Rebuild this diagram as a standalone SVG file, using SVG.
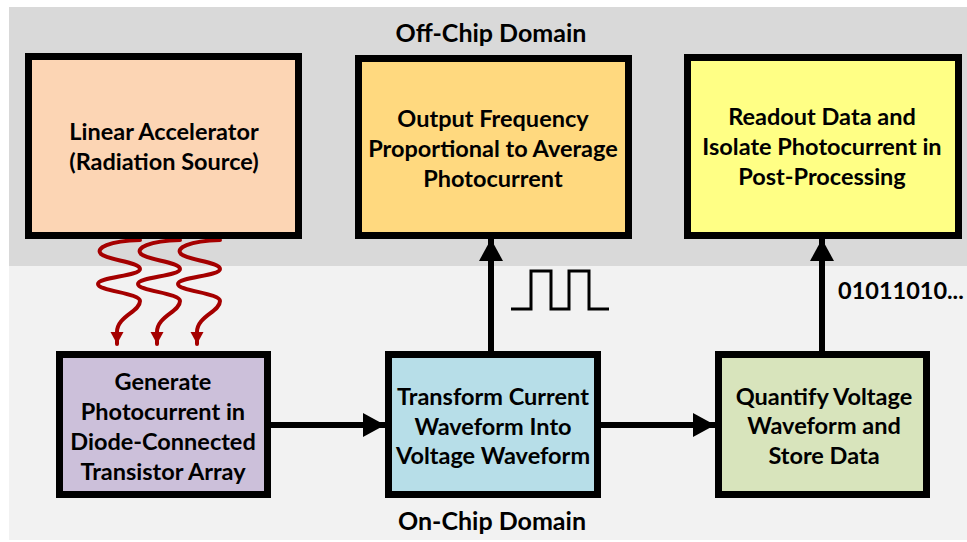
<svg xmlns="http://www.w3.org/2000/svg" width="967" height="542" viewBox="0 0 967 542">
  <style>
    .box { stroke: #000; stroke-width: 7; }
    .lbl { font-family: Lato, "Liberation Sans", sans-serif; font-weight: bold; font-size: 23.5px; fill: #000; text-anchor: middle; }
    .dom { font-size: 25px; }
    .flow { stroke: #000; stroke-width: 6; fill: none; }
    .ray { stroke: #a50000; stroke-width: 4; fill: none; stroke-linecap: round; }
  </style>
  <defs>
    <marker id="head" markerUnits="userSpaceOnUse" markerWidth="24" markerHeight="24" refX="22" refY="12" orient="auto">
      <path d="M0,0 L22,12 L0,24 Z" fill="#000"/>
    </marker>
    <marker id="rayhead" markerUnits="userSpaceOnUse" markerWidth="14" markerHeight="14" refX="12" refY="6.5" orient="auto">
      <path d="M0,0 L12,6.5 L0,13 Z" fill="#a50000"/>
    </marker>
    <path id="wave" class="ray" d="M23,0 C-8,1 -22,8 -16,14 C-10,20 23,22 23,29 C23,36 -19,37 -19,44 C-19,51 23,53 23,61 C23,72 0,76 0,92 L0,104" marker-end="url(#rayhead)"/>
  </defs>

  <!-- domain backgrounds -->
  <rect x="9" y="7" width="958" height="259" fill="#d9d9d9"/>
  <rect x="9" y="266" width="958" height="274" fill="#f2f2f2"/>
  <text class="lbl dom" x="491" y="42">Off-Chip Domain</text>
  <text class="lbl dom" x="492" y="530">On-Chip Domain</text>

  <!-- connectors -->
  <g id="connectors">
    <line class="flow" x1="271" y1="425" x2="385" y2="425" marker-end="url(#head)"/>
    <line class="flow" x1="601" y1="425" x2="715" y2="425" marker-end="url(#head)"/>
    <line class="flow" x1="491" y1="351" x2="491" y2="239" marker-end="url(#head)"/>
    <line class="flow" x1="822" y1="351" x2="822" y2="239" marker-end="url(#head)"/>
    <g id="radiation">
      <use href="#wave" x="117" y="240"/>
      <use href="#wave" x="157" y="240"/>
      <use href="#wave" x="197" y="240"/>
    </g>
    <polyline points="511,309 531,309 531,271 551,271 551,309 569,309 569,271 589,271 589,309 609,309" fill="none" stroke="#000" stroke-width="3"/>
    <text class="lbl" x="838" y="299" style="text-anchor:start">01011010...</text>
  </g>

  <g id="linac">
    <rect class="box" x="28.5" y="56.5" width="270" height="179" fill="#fcd5b4"/>
    <text class="lbl" x="164" y="140">Linear Accelerator</text>
    <text class="lbl" x="164" y="170">(Radiation Source)</text>
  </g>
  <g id="frequency">
    <rect class="box" x="358.5" y="58.5" width="270" height="177" fill="#ffd97f"/>
    <text class="lbl" x="493" y="127">Output Frequency</text>
    <text class="lbl" x="493" y="157">Proportional to Average</text>
    <text class="lbl" x="493" y="187">Photocurrent</text>
  </g>
  <g id="readout">
    <rect class="box" x="687.5" y="57.5" width="271" height="178" fill="#ffff85"/>
    <text class="lbl" x="822" y="125">Readout Data and</text>
    <text class="lbl" x="822" y="155">Isolate Photocurrent in</text>
    <text class="lbl" x="822" y="185">Post-Processing</text>
  </g>
  <g id="generate">
    <rect class="box" x="59.5" y="354.5" width="208" height="140" fill="#ccc0da"/>
    <text class="lbl" x="163" y="390">Generate</text>
    <text class="lbl" x="163" y="420">Photocurrent in</text>
    <text class="lbl" x="163" y="450">Diode-Connected</text>
    <text class="lbl" x="163" y="480">Transistor Array</text>
  </g>
  <g id="transform">
    <rect class="box" x="388.5" y="354.5" width="209" height="140" fill="#b7dee8"/>
    <text class="lbl" x="493" y="405">Transform Current</text>
    <text class="lbl" x="493" y="435">Waveform Into</text>
    <text class="lbl" x="493" y="464">Voltage Waveform</text>
  </g>
  <g id="quantify">
    <rect class="box" x="718.5" y="354.5" width="208" height="140" fill="#d8e4bc"/>
    <text class="lbl" x="824" y="405">Quantify Voltage</text>
    <text class="lbl" x="824" y="434">Waveform and</text>
    <text class="lbl" x="824" y="464">Store Data</text>
  </g>
</svg>
